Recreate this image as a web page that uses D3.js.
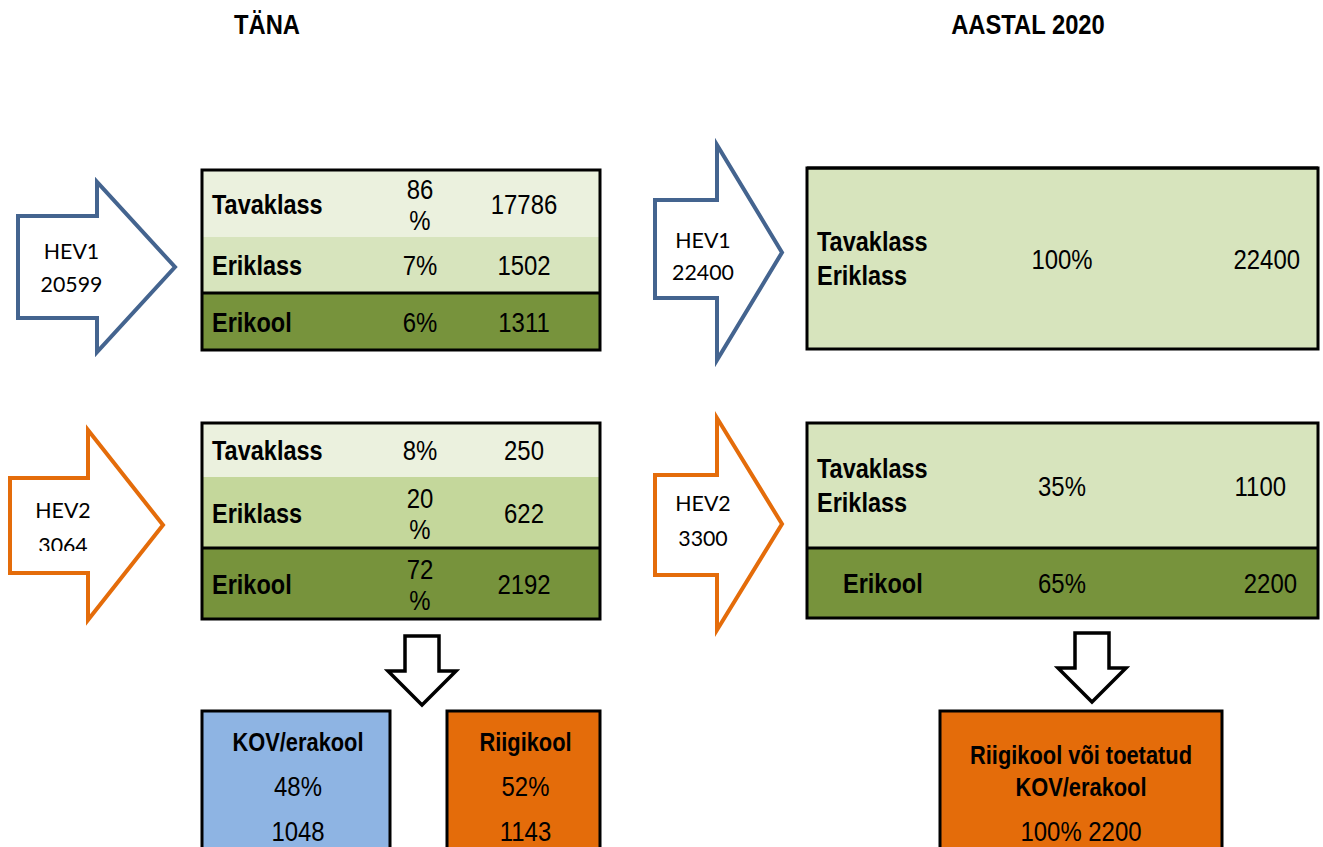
<!DOCTYPE html>
<html>
<head>
<meta charset="utf-8">
<script src="https://cdn.jsdelivr.net/npm/d3@7"></script>
<style>
  body { margin: 0; background: #fff; }
  svg { display: block; }
</style>
</head>
<body>
<svg id="chart"></svg>
<script>
// ---- data ----
let titles = ['TÄNA', 'AASTAL 2020']
let rowLabels = ['Tavaklass', 'Eriklass', 'Erikool']

let hevGroups = ['HEV1', 'HEV2']
let hevTotalsToday = [20599, 3064]
let hevTotals2020 = [22400, 3300]

let hev1Pct = [86, 7, 6]
let hev1Count = [17786, 1502, 1311]
let hev2Pct = [8, 20, 72]
let hev2Count = [250, 622, 2192]

// 2020: Tavaklass + Eriklass merged into one row
let hev1Pct2020 = [100]
let hev1Count2020 = [22400]
let hev2Pct2020 = [35, 65]
let hev2Count2020 = [1100, 2200]

let ownerLabels = ['KOV/erakool', 'Riigikool']
let ownerPct = [48, 52]
let ownerCount = [1048, 1143]
let future2020Label = ['Riigikool või  toetatud', 'KOV/erakool']
let future2020Pct = 100
let future2020Count = 2200

// ---- setup ----
let svgWidth = 1323, svgHeight = 847
let svg = d3.select('#chart').attr('width', svgWidth).attr('height', svgHeight)
let g = svg.append('g')

const SANS = '"Liberation Sans", Arial, sans-serif'
const ARROWFONT = 'Lato, "Open Sans", sans-serif'
const SQX = 0.84   // the original text is slightly condensed

const rowColor = d3.scaleOrdinal().domain(rowLabels).range(['#EBF1DE', '#D7E4BD', '#77933C'])
const hevColor = d3.scaleOrdinal().domain(hevGroups).range(['#44648F', '#E46C0A'])

function txt(parent, x, y, s, opts = {}) {
  let t = parent.append('g')
    .attr('transform', `translate(${x},${y}) scale(${opts.sx || SQX},1)`)
    .append('text')
    .attr('text-anchor', opts.anchor || 'middle')
    .style('font-family', opts.family || SANS)
    .style('font-size', (opts.size || 28.5) + 'px')
    .style('font-weight', opts.bold ? 'bold' : 'normal')
    .attr('fill', '#000')
    .text(s)
  return t
}

// percent text wraps like the original narrow cells ("86" / "%")
function pctText(parent, x, cy, v) {
  if (String(v).length > 1) {
    txt(parent, x, cy - 5, v)
    txt(parent, x, cy + 26, '%')
  } else {
    txt(parent, x, cy + 10, v + '%')
  }
}

// right-pointing block arrow
function rightArrow(a, color) {
  let p = d3.path()
  p.moveTo(a.x0, a.bt); p.lineTo(a.xh, a.bt); p.lineTo(a.xh, a.ht)
  p.lineTo(a.xt, (a.ht + a.hb) / 2)
  p.lineTo(a.xh, a.hb); p.lineTo(a.xh, a.bb); p.lineTo(a.x0, a.bb); p.closePath()
  g.append('path').attr('d', p.toString())
    .attr('fill', '#fff').attr('stroke', color).attr('stroke-width', 4)
    .attr('stroke-linejoin', 'miter')
}

// down-pointing block arrow
function downArrow(cx, y0, yb, yt) {
  let p = d3.path()
  p.moveTo(cx - 17, y0); p.lineTo(cx + 17, y0); p.lineTo(cx + 17, yb)
  p.lineTo(cx + 34, yb); p.lineTo(cx, yt); p.lineTo(cx - 34, yb)
  p.lineTo(cx - 17, yb); p.closePath()
  g.append('path').attr('d', p.toString())
    .attr('fill', '#fff').attr('stroke', '#000').attr('stroke-width', 3.5)
}

function table(x0, x1, ys, fills) {
  let tg = g.append('g')
  ys.slice(0, -1).forEach((y, i) => {
    tg.append('rect').attr('x', x0).attr('y', y).attr('width', x1 - x0).attr('height', ys[i + 1] - y)
      .attr('fill', fills[i])
  })
  return tg
}
function tableBorder(x0, x1, ys, sepIdx) {
  g.append('rect').attr('x', x0).attr('y', ys[0]).attr('width', x1 - x0).attr('height', ys[ys.length - 1] - ys[0])
    .attr('fill', 'none').attr('stroke', '#000').attr('stroke-width', 3)
  g.append('line').attr('x1', x0).attr('x2', x1).attr('y1', ys[sepIdx]).attr('y2', ys[sepIdx])
    .attr('stroke', '#000').attr('stroke-width', 3)
}

// ---- titles ----
txt(g, 267, 34, titles[0], {bold: true, size: 27, sx: 0.88})
txt(g, 1028, 34, titles[1], {bold: true, size: 27, sx: 0.88})

// ---- left arrows (today) ----
let leftArrows = [
  {x0: 18, xh: 97, xt: 175, bt: 216, bb: 318, ht: 182, hb: 352, t1: 259, t2: 292},
  {x0: 10, xh: 88, xt: 163, bt: 478, bb: 573, ht: 430, hb: 620, t1: 518, t2: 553}
]
leftArrows.forEach((a, i) => {
  rightArrow(a, hevColor(hevGroups[i]))
  let cx = (a.x0 + a.xh) / 2 + 14
  // the second label box is too short in the original, so its last line gets cut
  let clip = 'clipL' + i
  svg.append('clipPath').attr('id', clip).append('rect')
    .attr('x', a.x0 + 3).attr('y', a.bt + 2).attr('width', a.xt - a.x0)
    .attr('height', i == 1 ? a.t2 - 2 - a.bt - 2 : a.bb - a.bt)
  let tg = g.append('g').attr('clip-path', `url(#${clip})`)
  txt(tg, cx, a.t1, hevGroups[i], {family: ARROWFONT, size: 22, sx: 0.97})
  txt(tg, cx, a.t2, hevTotalsToday[i], {family: ARROWFONT, size: 22, sx: 0.97})
})

// ---- today tables ----
let lx0 = 202, lx1 = 600
let col = {label: 212, pct: 420, count: 524}
let todayTables = [
  {ys: [170, 237, 293, 350], pct: hev1Pct, count: hev1Count,
   fills: rowLabels.map(rowColor)},
  {ys: [423, 477, 548, 619], pct: hev2Pct, count: hev2Count,
   fills: ['#EBF1DE', '#C4D79B', '#77933C']}
]
todayTables.forEach(t => {
  table(lx0, lx1, t.ys, t.fills)
  tableBorder(lx0, lx1, t.ys, 2)
  rowLabels.forEach((lab, i) => {
    let cy = (t.ys[i] + t.ys[i + 1]) / 2
    txt(g, col.label, cy + 10, lab, {anchor: 'start', bold: true, size: 28})
    pctText(g, col.pct, cy, t.pct[i])
    txt(g, col.count, cy + 10, t.count[i])
  })
})

// ---- right arrows (2020) ----
let rightArrows = [
  {x0: 655, xh: 717, xt: 782, bt: 200, bb: 298, ht: 145, hb: 360, t1: 248, t2: 280},
  {x0: 655, xh: 717, xt: 782, bt: 475, bb: 575, ht: 418, hb: 630, t1: 511, t2: 546}
]
rightArrows.forEach((a, i) => {
  rightArrow(a, hevColor(hevGroups[i]))
  let cx = (a.x0 + a.xh) / 2 + 17
  txt(g, cx, a.t1, hevGroups[i], {family: ARROWFONT, size: 22, sx: 0.97})
  txt(g, cx, a.t2, hevTotals2020[i], {family: ARROWFONT, size: 22, sx: 0.97})
})

// ---- 2020 tables ----
let rx0 = 807, rx1 = 1318
let rcol = {label: 817, pct: 1062, count: 1300}
// HEV1
{
  let ys = [168, 349]
  table(rx0, rx1, ys, [rowColor('Eriklass')])
  tableBorder(rx0, rx1, ys, 0)
  let cy = (ys[0] + ys[1]) / 2
  txt(g, rcol.label, cy - 8, rowLabels[0], {anchor: 'start', bold: true, size: 28})
  txt(g, rcol.label, cy + 26, rowLabels[1], {anchor: 'start', bold: true, size: 28})
  txt(g, rcol.pct, cy + 10, hev1Pct2020[0] + '%')
  txt(g, rcol.count, cy + 10, hev1Count2020[0], {anchor: 'end'})
}
// HEV2
{
  let ys = [423, 548, 618]
  table(rx0, rx1, ys, [rowColor('Eriklass'), rowColor('Erikool')])
  tableBorder(rx0, rx1, ys, 1)
  let cy = (ys[0] + ys[1]) / 2
  txt(g, rcol.label, cy - 8, rowLabels[0], {anchor: 'start', bold: true, size: 28})
  txt(g, rcol.label, cy + 26, rowLabels[1], {anchor: 'start', bold: true, size: 28})
  txt(g, rcol.pct, cy + 10, hev2Pct2020[0] + '%')
  txt(g, rcol.count - 14, cy + 10, hev2Count2020[0], {anchor: 'end'})
  let cy2 = (ys[1] + ys[2]) / 2
  txt(g, 843, cy2 + 10, rowLabels[2], {anchor: 'start', bold: true, size: 28})
  txt(g, rcol.pct, cy2 + 10, hev2Pct2020[1] + '%')
  txt(g, rcol.count - 3, cy2 + 10, hev2Count2020[1], {anchor: 'end'})
}

// ---- down arrows ----
downArrow(422, 636, 671, 705)
downArrow(1092, 633, 668, 702)

// ---- school owner boxes ----
let ownerBoxes = [
  {x0: 202, x1: 390, fill: '#8EB4E3'},
  {x0: 447, x1: 600, fill: '#E46C0A'}
]
ownerBoxes.forEach((b, i) => {
  g.append('rect').attr('x', b.x0).attr('y', 711).attr('width', b.x1 - b.x0).attr('height', 160)
    .attr('fill', b.fill).attr('stroke', '#000').attr('stroke-width', 3)
  let cx = (b.x0 + b.x1) / 2 + 2
  txt(g, cx, 751, ownerLabels[i], {bold: true, size: 26})
  txt(g, cx, 796, ownerPct[i] + '%')
  txt(g, cx, 841, ownerCount[i])
})

g.append('rect').attr('x', 940).attr('y', 711).attr('width', 282).attr('height', 160)
  .attr('fill', '#E46C0A').attr('stroke', '#000').attr('stroke-width', 3)
txt(g, 1081, 764, future2020Label[0], {bold: true, size: 26})
txt(g, 1081, 796, future2020Label[1], {bold: true, size: 26})
txt(g, 1081, 841, future2020Pct + '% ' + future2020Count)
</script>
</body>
</html>
